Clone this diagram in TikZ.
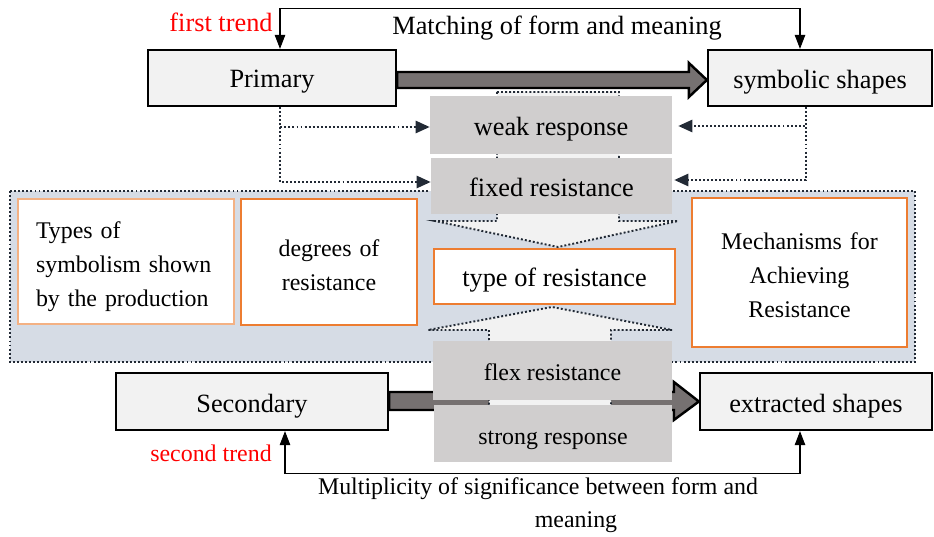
\documentclass[tikz,border=0pt]{standalone}
\usepackage{fontspec}
\setmainfont{Liberation Serif}
\usetikzlibrary{arrows.meta,%
                backgrounds,positioning}
\definecolor{boxgray}{HTML}{F2F2F2}
\definecolor{respgray}{HTML}{D0CECE}
\definecolor{arrgray}{HTML}{767171}
\definecolor{navy}{HTML}{222A35}
\definecolor{bluegray}{HTML}{D6DCE5}
\definecolor{orng}{HTML}{ED7D31}
\definecolor{lightorng}{HTML}{F4B183}
\newcommand{\bigtxt}{\fontsize{15}{19}\selectfont}
\newcommand{\smalltxt}{\fontsize{13.6}{19.5}\selectfont}

\begin{document}
\begin{tikzpicture}[x=0.02cm,y=-0.02cm,
  oneline/.style={text height=#1,text depth=0pt},oneline/.default=11.5pt,
  drop/.style={text height=0pt,text depth=#1},
  dots/.style={dash pattern=on 1.1pt off 1.2pt,line width=1.1pt},
  trendbox/.style={draw,line width=1.3pt,fill=boxgray,font=\bigtxt,inner sep=0pt,oneline},
  respbox/.style={fill=respgray,inner sep=0pt,oneline},
  kindbox/.style={draw=orng,line width=1.3pt,fill=white,inner sep=0pt,align=center},
  bigarrow/.style={draw,line width=1.4pt,fill=arrgray},
  blockarrow/.style={draw=navy,dots,fill=boxgray},
  dotarrow/.style={draw=navy,dots,-{Triangle[width=7pt,length=8pt,fill=navy]}},
  thinarrow/.style={line width=0.6pt,{Triangle[width=6pt,length=8pt]}-{Triangle[width=6pt,length=8pt]}}]
\useasboundingbox (0,0) rectangle (934,537);
%\draw[help lines] (0,0) grid[step=50] (934,537);
\node[trendbox,oneline=10.5pt,minimum width=4.96cm,minimum height=1.12cm] (prim) at (272,78) {Primary};
\node[trendbox,minimum width=4.48cm,minimum height=1.12cm] (symb) at (820,78) {symbolic shapes};
\node[respbox,minimum width=4.84cm,minimum height=1.16cm,font=\bigtxt] (weak) at (551,125) {weak response};
\node[respbox,minimum width=4.82cm,minimum height=1.12cm,font=\bigtxt] (fixed) at (551.5,186) {fixed resistance};
\node[kindbox,draw=lightorng,minimum width=4.32cm,minimum height=2.5cm,font=\smalltxt,
      text width=3.6cm,align=left,drop=26.6pt] (types) at (126,261.5) {Types of\\symbolism shown\\by the production};
\node[kindbox,minimum width=3.52cm,minimum height=2.52cm,font=\smalltxt,text width=3cm,drop=6.8pt] (degr) at (329,262) {degrees of\\resistance};
\node[kindbox,minimum width=4.82cm,minimum height=1.1cm,font=\bigtxt,oneline] (kind) at (554.5,276.5) {type of resistance};
\node[kindbox,minimum width=4.3cm,minimum height=2.98cm,font=\smalltxt,text width=3.8cm,drop=26.3pt] (mech) at (799.5,272.5) {Mechanisms for\\Achieving\\Resistance};
\node[respbox,minimum width=4.78cm,minimum height=1.18cm,font=\smalltxt] (flex) at (552.5,370.5) {flex resistance};
\node[respbox,oneline=13pt,minimum width=4.76cm,minimum height=1.14cm,font=\smalltxt] (strong) at (553,433.5) {strong response};
\node[trendbox,oneline=13pt,minimum width=5.44cm,minimum height=1.14cm] (second) at (252,401.5) {Secondary};
\node[trendbox,oneline=13pt,minimum width=4.64cm,minimum height=1.14cm] (extr) at (816,401.5) {extracted shapes};
\node[font=\bigtxt,text=red] (first) at (221,22) {first trend};
\node[font=\smalltxt,text=red] (sectr) at (211,453) {second trend};
\node[font=\bigtxt] (match) at (557,28) {Matching of form and meaning};
\node[font=\smalltxt] (multi) at (538,489) {Multiplicity of significance between form and};
\node[font=\smalltxt] (mean) at (576,522) {meaning};
\begin{scope}[on background layer]
\draw[dots,line width=1.3pt,draw=navy,fill=bluegray] (10,191) rectangle (915,362);
\draw[bigarrow] ([yshift=0.12cm]prim.east) -- ([xshift=-0.36cm,yshift=0.12cm]symb.west)
  -- ([xshift=-0.36cm,yshift=0.30cm]symb.west) -- ([yshift=-0.04cm]symb.west)
  -- ([xshift=-0.36cm,yshift=-0.38cm]symb.west) -- ([xshift=-0.36cm,yshift=-0.2cm]symb.west)
  -- ([yshift=-0.2cm]prim.east) -- cycle;
\draw[bigarrow] ([yshift=0.19cm]second.east) -- ([xshift=-0.5cm,yshift=0.19cm]extr.west)
  -- ([xshift=-0.5cm,yshift=0.39cm]extr.west) -- (extr.west)
  -- ([xshift=-0.5cm,yshift=-0.37cm]extr.west) -- ([xshift=-0.5cm,yshift=-0.17cm]extr.west)
  -- ([yshift=-0.17cm]second.east) -- cycle;
\draw[blockarrow] (497,92) -- (619,92) -- (619,221) -- (678,221) -- (558,247)
  -- (435,221) -- (497,221) -- cycle;
\draw[blockarrow] (489,460) -- (611,460) -- (611,330) -- (672,330) -- (552,307)
  -- (428,330) -- (489,330) -- cycle;
\end{scope}
\draw[dotarrow] ([xshift=0.16cm]prim.south) |- ([yshift=-0.04cm]weak.west);
\draw[dotarrow] ([xshift=0.16cm]prim.south) |- ([yshift=0.08cm]fixed.west);
\draw[dotarrow,shorten >=0.12cm] ([xshift=-0.28cm]symb.south) |- ([yshift=-0.02cm]weak.east);
\draw[dotarrow,shorten >=0.04cm] ([xshift=-0.28cm]symb.south) |- ([yshift=0.12cm]fixed.east);
\draw[thinarrow] ([xshift=0.16cm]prim.north) -- ++(0,-40) -| ([xshift=-0.4cm]symb.north);
\draw[thinarrow] ([xshift=0.66cm]second.south) -- ++(0,42) -| ([xshift=-0.32cm]extr.south);
\end{tikzpicture}
\end{document}
